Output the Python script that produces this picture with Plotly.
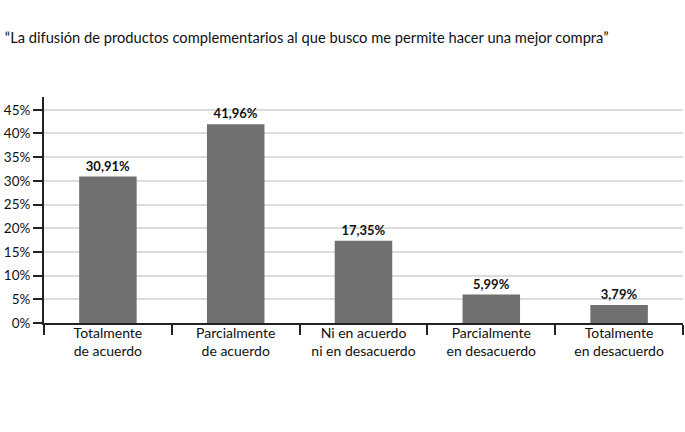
import plotly.graph_objects as go

categories = ["Totalmente<br>de acuerdo", "Parcialmente<br>de acuerdo",
              "Ni en acuerdo<br>ni en desacuerdo", "Parcialmente<br>en desacuerdo",
              "Totalmente<br>en desacuerdo"]
values = [30.91, 41.96, 17.35, 5.99, 3.79]
labels = ["30,91%", "41,96%", "17,35%", "5,99%", "3,79%"]
tick_vals = [0, 5, 10, 15, 20, 25, 30, 35, 40, 45]
tick_text = ["0%", "5%", "10%", "15%", "20%", "25%", "30%", "35%", "40%", "45%"]
title = "“La difusión de productos complementarios al que busco me permite hacer una mejor compra”"

FONT = "Lato"

fig = go.Figure(go.Bar(
    x=categories, y=values, text=labels, textposition="outside",
    textfont=dict(family=FONT, size=13, color="#111111", weight="bold"),
    marker=dict(color="#707070", line=dict(width=0)),
    cliponaxis=False,
))

fig.update_layout(
    width=685, height=432,
    margin=dict(l=44, r=2, t=97, b=109),
    paper_bgcolor="white", plot_bgcolor="white",
    bargap=0.55,
    showlegend=False,
    title=dict(text=title, x=0.007, xanchor="left", y=0.912, yanchor="middle",
               font=dict(family=FONT, size=14.7, color="#111111")),
    font=dict(family=FONT, color="#111111"),
)
fig.update_yaxes(
    range=[0, 47.7], tickvals=tick_vals, ticktext=tick_text,
    showgrid=True, gridcolor="#dcdcdc", gridwidth=1.5,
    showline=True, linecolor="#222222", linewidth=2,
    ticks="outside", ticklen=9, tickcolor="#222222", tickwidth=2,
    tickfont=dict(family=FONT, size=13.5, color="#111111"),
    zeroline=False, fixedrange=True, automargin=False,
)
fig.update_xaxes(
    showline=True, linecolor="#222222", linewidth=2,
    ticks="outside", tickson="boundaries", ticklen=10, tickcolor="#222222", tickwidth=2,
    tickfont=dict(family=FONT, size=14, color="#111111"),
    ticklabelstandoff=-4,
    showgrid=False, automargin=False,
)

fig.write_html("out.html", config={"displayModeBar": False},
               post_script="document.body.style.margin='0';")
